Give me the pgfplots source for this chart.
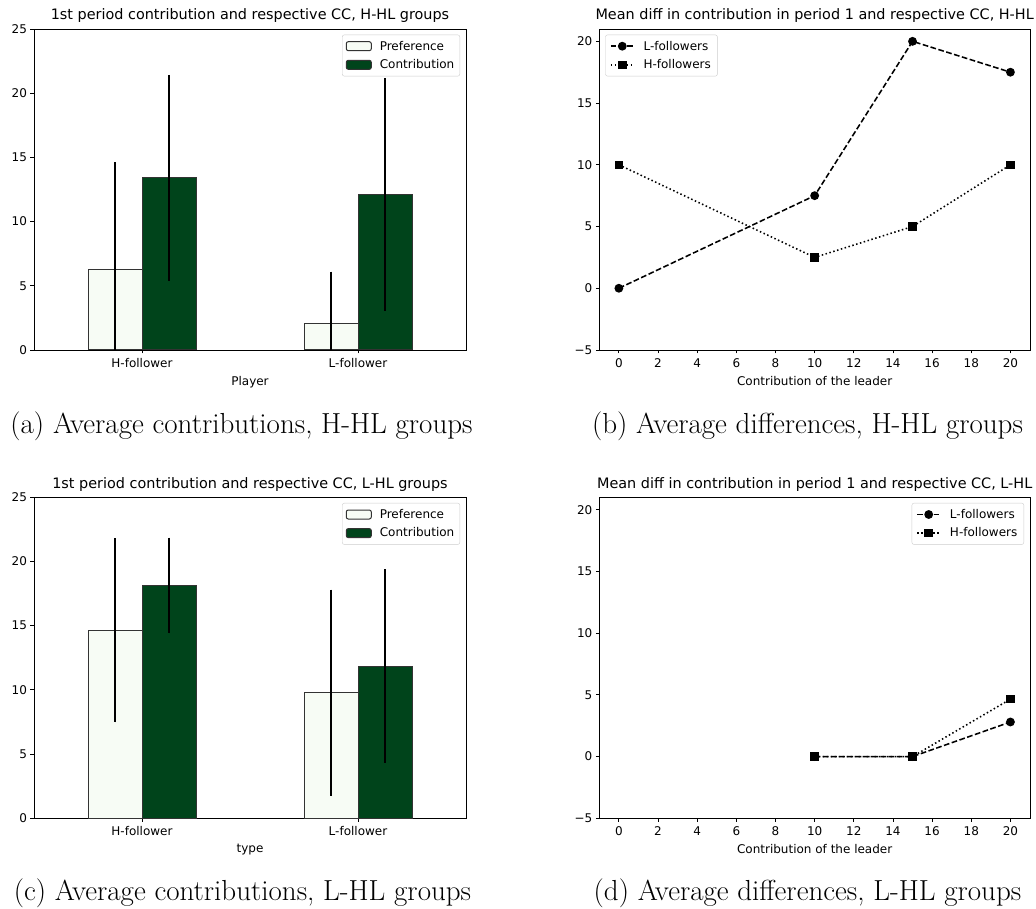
\documentclass[border=0pt]{standalone}
\usepackage{fontspec}
\usepackage{pgfplots}
\pgfplotsset{compat=1.18}
\newfontfamily\djv{DejaVu Sans}
\definecolor{prefcol}{HTML}{F7FCF5}
\definecolor{contcol}{HTML}{00441B}

\pgfplotsset{
  mplbase/.style={
    scale only axis,
    anchor=south west,
    axis line style={line width=0.85pt, black},
    tick align=outside,
    tick pos=left,
    major tick length=3.5pt,
    every tick/.style={line width=0.85pt, black},
    tick label style={font=\djv\fontsize{12}{14}\selectfont},
    xticklabel style={yshift=-1.5pt},
    /pgf/number format/assume math mode=true,
    label style={font=\djv\fontsize{12}{14}\selectfont},
    xlabel style={yshift=-1.5pt},
    title style={font=\djv\fontsize{14.4}{17}\selectfont, inner sep=0pt},
    legend style={font=\djv\fontsize{12}{14}\selectfont, draw=black!20, rounded corners=2pt, fill=white,
      inner xsep=3.5pt, inner ysep=4pt, row sep=4pt,
      /tikz/every odd column/.append style={column sep=6pt}},
    legend cell align=left,
  },
  barpanel/.style={
    mplbase,
    width=432pt, height=321pt,
    xmin=-0.5, xmax=1.5, ymin=0, ymax=25,
    xtick={0,1}, xticklabels={H-follower,L-follower},
    ytick={0,5,...,25},
    legend style={at={(1,1)}, anchor=north east, xshift=-6pt, yshift=-5.7pt},
  },
  linepanel/.style={
    mplbase,
    width=430.7pt, height=321pt,
    xmin=-1, xmax=21, ymin=-5, ymax=21,
    xtick={0,2,...,20},
    ytick={-5,0,5,10,15,20}, yticklabels={−5,0,5,10,15,20},
    xlabel={Contribution of the leader},
    legend style={inner xsep=4.5pt, /tikz/every odd column/.append style={column sep=7pt}},
  },
  errstyle/.style={
    error bars/y dir=both, error bars/y explicit, error bars/error mark=none,
    error bars/error bar style={line width=2pt, black}},
  barlegend/.style={legend image code/.code={\draw[##1, line width=1pt] (0pt,-4.5pt) rectangle (25pt,4.5pt);}},
  % bars are placed at their own centre (pos column), a quarter unit wide
  prefbar/.style={ybar, bar width=0.25, bar shift=0, fill=prefcol, draw=black!80, line width=1pt, errstyle, barlegend},
  contbar/.style={ybar, bar width=0.25, bar shift=0, fill=contcol, draw=black!80, line width=1pt, errstyle, barlegend},
  linelegend/.style={legend image code/.code={\draw[mark repeat=2, mark phase=2, ##1] plot coordinates {(0pt,0pt) (11.5pt,0pt) (23pt,0pt)};}},
  lfol/.style={black, line width=1.55pt, dash pattern=on 5.7pt off 2.5pt, mark=*, mark size=3.6pt, mark options={solid}, linelegend},
  hfol/.style={black, line width=1.55pt, dash pattern=on 1.5pt off 2.5pt, mark=square*, mark size=3.5pt, mark options={solid}, linelegend},
}

% mean and standard deviation per follower type
% (categories at 0 = H-follower, 1 = L-follower; pos = bar centre)
\pgfplotstableread{
pos     y     e
-0.125  6.28  8.36
0.875   2.08  4.02
}\prefHHL
\pgfplotstableread{
pos     y     e
0.125   13.40 8.03
1.125   12.12 9.06
}\contHHL
\pgfplotstableread{
pos     y     e
-0.125  14.64 7.16
0.875   9.76  8.04
}\prefLHL
\pgfplotstableread{
pos     y     e
0.125   18.13 3.72
1.125   11.86 7.53
}\contLHL

\begin{document}
\begin{tikzpicture}
\useasboundingbox (0,0) rectangle (1036pt,909pt);

% (a)
\begin{axis}[barpanel, at={(34pt,559pt)}, xlabel={Player},
  title={1st period contribution and respective CC, H-HL groups}]
\addplot[prefbar] table[x=pos, y=y, y error=e] {\prefHHL};
\addlegendentry{Preference}
\addplot[contbar] table[x=pos, y=y, y error=e] {\contHHL};
\addlegendentry{Contribution}
\end{axis}

% (b)
\begin{axis}[linepanel, at={(599.3pt,559pt)},
  title={Mean diff in contribution in period 1 and respective CC, H-HL},
  legend style={at={(0,1)}, anchor=north west, xshift=6pt, yshift=-5.7pt}]
\addplot[lfol] coordinates {(0,0) (10,7.5) (15,20) (20,17.5)};
\addlegendentry{L-followers}
\addplot[hfol] coordinates {(0,10) (10,2.5) (15,5) (20,10)};
\addlegendentry{H-followers}
\end{axis}

% (c)
\begin{axis}[barpanel, at={(34pt,90.7pt)}, xlabel={type},
  title={1st period contribution and respective CC, L-HL groups}]
\addplot[prefbar] table[x=pos, y=y, y error=e] {\prefLHL};
\addlegendentry{Preference}
\addplot[contbar] table[x=pos, y=y, y error=e] {\contLHL};
\addlegendentry{Contribution}
\end{axis}

% (d)
\begin{axis}[linepanel, at={(599.3pt,90.7pt)},
  title={Mean diff in contribution in period 1 and respective CC, L-HL},
  legend style={at={(1,1)}, anchor=north east, xshift=-6pt, yshift=-5.7pt}]
\addplot[lfol] coordinates {(10,0) (15,0) (20,2.8)};
\addlegendentry{L-followers}
\addplot[hfol] coordinates {(10,0) (15,0) (20,4.65)};
\addlegendentry{H-followers}
\end{axis}

% sub-captions
\begin{scope}[every node/.style={anchor=base, font=\fontsize{29}{34}\selectfont}]
\node at (241.5pt,475pt) {(a) Average contributions, H-HL groups};
\node at (807.5pt,475pt) {(b) Average differences, H-HL groups};
\node at (242.5pt,8.3pt) {(c) Average contributions, L-HL groups};
\node at (807.5pt,8.3pt) {(d) Average differences, L-HL groups};
\end{scope}
\end{tikzpicture}
\end{document}
